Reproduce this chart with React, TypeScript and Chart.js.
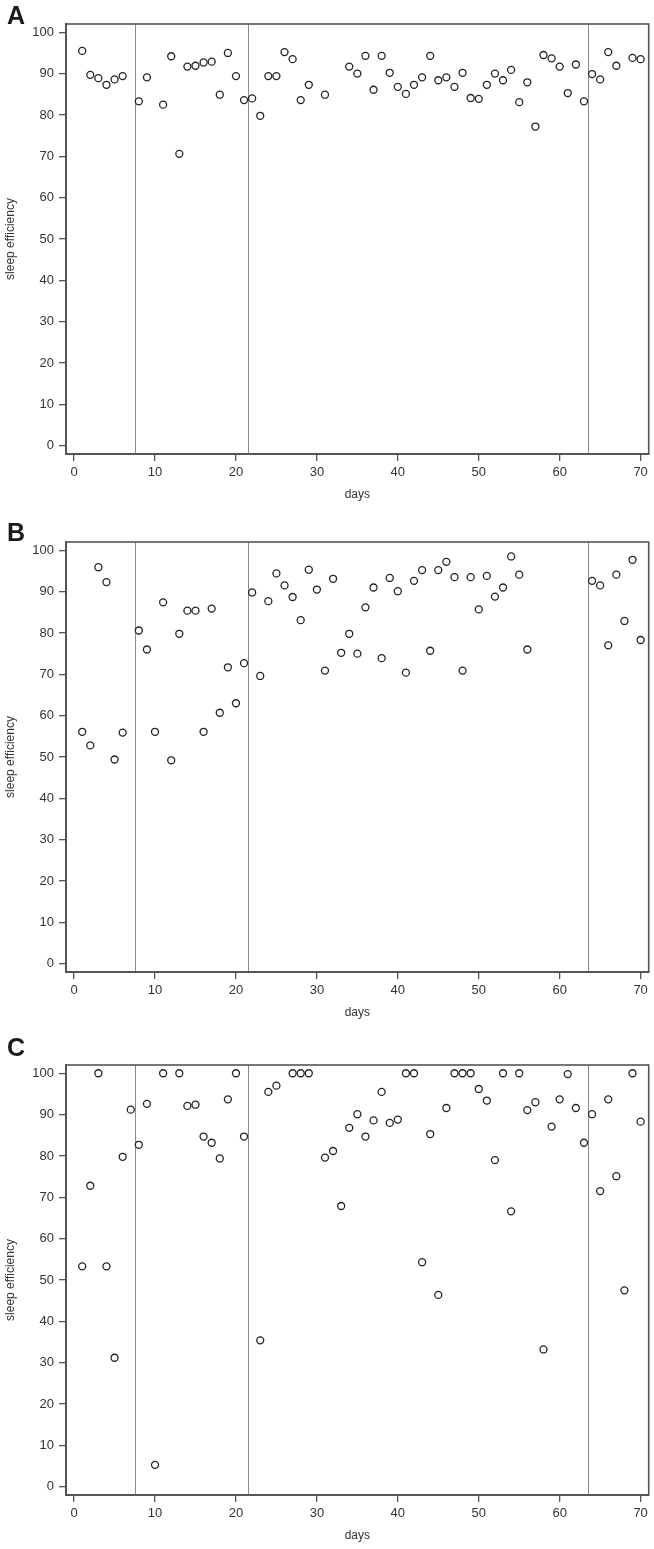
import React, { useEffect, useRef } from "react";
import { Chart, registerables } from "chart.js";

Chart.register(...registerables);

// ---- tick labels / reference lines ----
const dayTicks = [0, 10, 20, 30, 40, 50, 60, 70];
const effTicks = [0, 10, 20, 30, 40, 50, 60, 70, 80, 90, 100];
const phaseBreaks = [7.5, 21.5, 63.5];

// ---- Panel A ----
const daysA = [1, 2, 3, 4, 5, 6, 8, 9, 11, 12, 13, 14, 15, 16, 17, 18, 19, 20, 21, 22, 23, 24, 25, 26, 27, 28, 29, 31, 34, 35, 36, 37, 38, 39, 40, 41, 42, 43, 44, 45, 46, 47, 48, 49, 50, 51, 52, 53, 54, 55, 56, 57, 58, 59, 60, 61, 62, 63, 64, 65, 66, 67, 69, 70];
const effA = [95.5, 89.7, 88.9, 87.3, 88.6, 89.4, 83.3, 89.1, 82.5, 94.2, 70.6, 91.7, 91.9, 92.7, 92.9, 84.9, 95.0, 89.4, 83.6, 84.0, 79.8, 89.4, 89.4, 95.2, 93.5, 83.6, 87.3, 84.9, 91.7, 90.0, 94.3, 86.1, 94.3, 90.2, 86.8, 85.1, 87.3, 89.1, 94.3, 88.4, 89.1, 86.8, 90.2, 84.1, 83.9, 87.3, 90.0, 88.4, 90.9, 83.1, 87.9, 77.2, 94.5, 93.7, 91.7, 85.3, 92.2, 83.3, 89.9, 88.6, 95.2, 91.9, 93.8, 93.5];

// ---- Panel B ----
const daysB = [1, 2, 3, 4, 5, 6, 8, 9, 10, 11, 12, 13, 14, 15, 16, 17, 18, 19, 20, 21, 22, 23, 24, 25, 26, 27, 28, 29, 30, 31, 32, 33, 34, 35, 36, 37, 38, 39, 40, 41, 42, 43, 44, 45, 46, 47, 48, 49, 50, 51, 52, 53, 54, 55, 56, 64, 65, 66, 67, 68, 69, 70];
const effB = [56.1, 52.8, 95.9, 92.3, 49.4, 55.9, 80.6, 76.0, 56.1, 87.4, 49.2, 79.8, 85.4, 85.4, 56.1, 85.9, 60.7, 71.7, 63.0, 72.7, 89.8, 69.6, 87.7, 94.4, 91.5, 88.7, 83.1, 95.3, 90.5, 70.9, 93.1, 75.2, 79.8, 75.0, 86.2, 91.0, 73.9, 93.3, 90.1, 70.4, 92.6, 95.2, 75.7, 95.2, 97.2, 93.5, 70.9, 93.5, 85.7, 93.8, 88.8, 91.0, 98.5, 94.1, 76.0, 92.6, 91.5, 77.0, 94.1, 82.9, 97.7, 78.3];

// ---- Panel C ----
const daysC = [1, 2, 3, 4, 5, 6, 7, 8, 9, 10, 11, 13, 14, 15, 16, 17, 18, 19, 20, 21, 23, 24, 25, 27, 28, 29, 31, 32, 33, 34, 35, 36, 37, 38, 39, 40, 41, 42, 43, 44, 45, 46, 47, 48, 49, 50, 51, 52, 53, 54, 55, 56, 57, 58, 59, 60, 61, 62, 63, 64, 65, 66, 67, 68, 69, 70];
const effC = [53.3, 72.8, 100, 53.3, 31.2, 79.8, 91.2, 82.7, 92.6, 5.3, 100, 100, 92.1, 92.4, 84.7, 83.2, 79.4, 93.7, 100, 84.7, 35.4, 95.5, 97.0, 100, 100, 100, 79.6, 81.2, 67.9, 86.8, 90.1, 84.7, 88.6, 95.5, 88.0, 88.8, 100, 100, 54.3, 85.3, 46.4, 91.6, 100, 100, 100, 96.2, 93.4, 79.0, 100, 66.6, 100, 91.1, 93.0, 33.2, 87.1, 93.7, 99.8, 91.6, 83.2, 90.1, 71.5, 93.7, 75.1, 47.5, 100, 88.3];

const TICK_FONT = "'Liberation Sans Narrow', 'Arial Narrow', 'Liberation Sans', Arial, sans-serif";
const TITLE_FONT = "'Liberation Sans', Arial, sans-serif";

const PLOT_H = 430;
const AXIS_H = 54;
const Y_AXIS_W = 66;

type PanelProps = {
  letter: string;
  days: number[];
  values: number[];
  top: number;
  padTop: number;
  letterY: number;
};

function Panel({ letter, days, values, top, padTop, letterY }: PanelProps) {
  const ref = useRef<HTMLCanvasElement>(null);
  const height = padTop + PLOT_H + AXIS_H;

  useEffect(() => {
    const framePlugin = {
      id: "frame",
      beforeDatasetsDraw(chart: any) {
        const { ctx, chartArea, scales } = chart;
        ctx.save();
        ctx.strokeStyle = "#8a8a8a";
        ctx.lineWidth = 1;
        for (const b of phaseBreaks) {
          const x = Math.round(scales.x.getPixelForValue(b)) + 0.5;
          ctx.beginPath();
          ctx.moveTo(x, chartArea.top);
          ctx.lineTo(x, chartArea.bottom);
          ctx.stroke();
        }
        ctx.restore();
      },
      afterDraw(chart: any) {
        const { ctx, chartArea } = chart;
        ctx.save();
        ctx.strokeStyle = "#555";
        ctx.lineWidth = 1.6;
        ctx.strokeRect(
          chartArea.left,
          chartArea.top,
          chartArea.right - chartArea.left,
          chartArea.bottom - chartArea.top
        );
        ctx.fillStyle = "#1a1a1a";
        ctx.font = `bold 25px ${TITLE_FONT}`;
        ctx.textBaseline = "alphabetic";
        ctx.textAlign = "left";
        ctx.fillText(letter, 7, letterY);
        ctx.restore();
      },
    };

    const chart = new Chart(ref.current as HTMLCanvasElement, {
      type: "scatter",
      data: {
        datasets: [
          {
            data: days.map((d, i) => ({ x: d, y: values[i] })),
            pointStyle: "circle",
            pointRadius: 3.5,
            pointBorderWidth: 1.3,
            borderColor: "#222",
            backgroundColor: "rgba(255,255,255,0)",
            showLine: false,
          },
        ],
      },
      options: {
        responsive: false,
        maintainAspectRatio: false,
        animation: false,
        events: [],
        layout: { padding: { top: padTop, right: 2, left: 0, bottom: 0 } },
        plugins: {
          legend: { display: false },
          tooltip: { enabled: false },
        },
        scales: {
          x: {
            type: "linear",
            min: -1,
            max: 71,
            afterBuildTicks: (s: any) => {
              s.ticks = dayTicks.map((v) => ({ value: v }));
            },
            afterFit: (s: any) => {
              s.height = AXIS_H;
            },
            grid: {
              drawOnChartArea: false,
              drawTicks: true,
              tickLength: 7,
              color: "#555",
              lineWidth: 1.3,
            },
            border: { display: true, color: "#555", width: 2 },
            ticks: {
              padding: 4,
              color: "#333",
              maxRotation: 0,
              autoSkip: false,
              font: { family: TICK_FONT, size: 13 },
            },
            title: {
              display: true,
              text: "days",
              color: "#333",
              font: { family: TITLE_FONT, size: 12 },
              padding: { top: 4, bottom: 6 },
            },
          },
          y: {
            type: "linear",
            min: -2,
            max: 102,
            afterBuildTicks: (s: any) => {
              s.ticks = effTicks.map((v) => ({ value: v }));
            },
            afterFit: (s: any) => {
              s.width = Y_AXIS_W;
            },
            grid: {
              drawOnChartArea: false,
              drawTicks: true,
              tickLength: 7,
              color: "#555",
              lineWidth: 1.3,
            },
            border: { display: true, color: "#555", width: 2 },
            ticks: {
              padding: 5,
              color: "#333",
              autoSkip: false,
              font: { family: TICK_FONT, size: 13 },
            },
            title: {
              display: true,
              text: "sleep efficiency",
              color: "#333",
              font: { family: TITLE_FONT, size: 12 },
              padding: { top: 3, bottom: 4 },
            },
          },
        },
      },
      plugins: [framePlugin],
    } as any);
    return () => chart.destroy();
  }, [letter, days, values, padTop, letterY]);

  return (
    <div style={{ position: "absolute", left: 0, top, width: 654, height }}>
      <canvas ref={ref} width={654} height={height} style={{ display: "block" }} />
    </div>
  );
}

export default function App() {
  return (
    <div style={{ position: "absolute", left: 0, top: 0, width: 654, height: 1549, background: "#fff", overflow: "hidden" }}>
      <Panel letter="A" days={daysA} values={effA} top={0} padTop={24} letterY={24} />
      <Panel letter="B" days={daysB} values={effB} top={518} padTop={24} letterY={23} />
      <Panel letter="C" days={daysC} values={effC} top={1030} padTop={35} letterY={26} />
    </div>
  );
}
